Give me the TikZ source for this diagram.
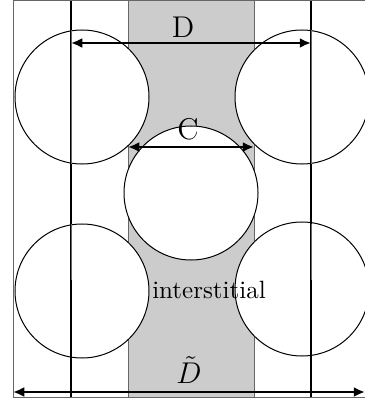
\documentclass[tikz,border=0pt]{standalone}
\usetikzlibrary{arrows.meta}
\begin{document}
\begin{tikzpicture}[x=0.4pt, y=-0.4pt,
    grain/.style={circle, draw, fill=white, inner sep=0pt, minimum size=53.6pt},
    edge/.style={draw=black!60},
    dim/.style={{Latex[length=4.5pt,width=4pt]}-{Latex[length=4.5pt,width=4pt]}, line width=0.9pt}]
  \useasboundingbox (0,0) rectangle (365,405);
  \clip (0,0) rectangle (365,405);

  % interstitial band and frame
  \fill[black!20] (128,1) rectangle (254,397);
  \draw[edge] (13,1) rectangle (372,397);
  \foreach \x in {128,254}
    \draw[edge] (\x,1) -- (\x,397);

  % grains
  \node[grain] (tl) at (82,97) {};
  \node[grain] (tr) at (302,97) {};
  \node[grain] (m) at (191,193) {};
  \node[grain] (bl) at (82,291) {};
  \node[grain] (br) at (302,289) {};

  \foreach \x in {71,311} {
    \draw[line width=0.5pt] (\x,1) -- (\x,397);
    \draw[edge] (\x,30) -- (\x,164);
    \draw[edge] (\x,224) -- (\x,280);
  }

  % dimensions
  \coordinate (dl) at (71,43);
  \coordinate (dr) at (311,43);
  \coordinate (cl) at (128,147);
  \coordinate (cr) at (254,147);
  \coordinate (tl0) at (13,392);
  \coordinate (tr0) at (365,392);
  \draw[dim] (dl) -- (dr);
  \draw[dim] (cl) -- (cr);
  \draw[dim] (tl0) -- (tr0);

  \node[font=\large, inner sep=1pt] (dlab) at (183,27) {D};
  \node[font=\large, inner sep=1pt] (clab) at (188,129) {C};
  \node[font=\large, inner sep=1pt] (tlab) at (189,370) {$\tilde{D}$};
  \node[inner sep=1pt] (ilab) at (209,290) {interstitial};
\end{tikzpicture}
\end{document}
